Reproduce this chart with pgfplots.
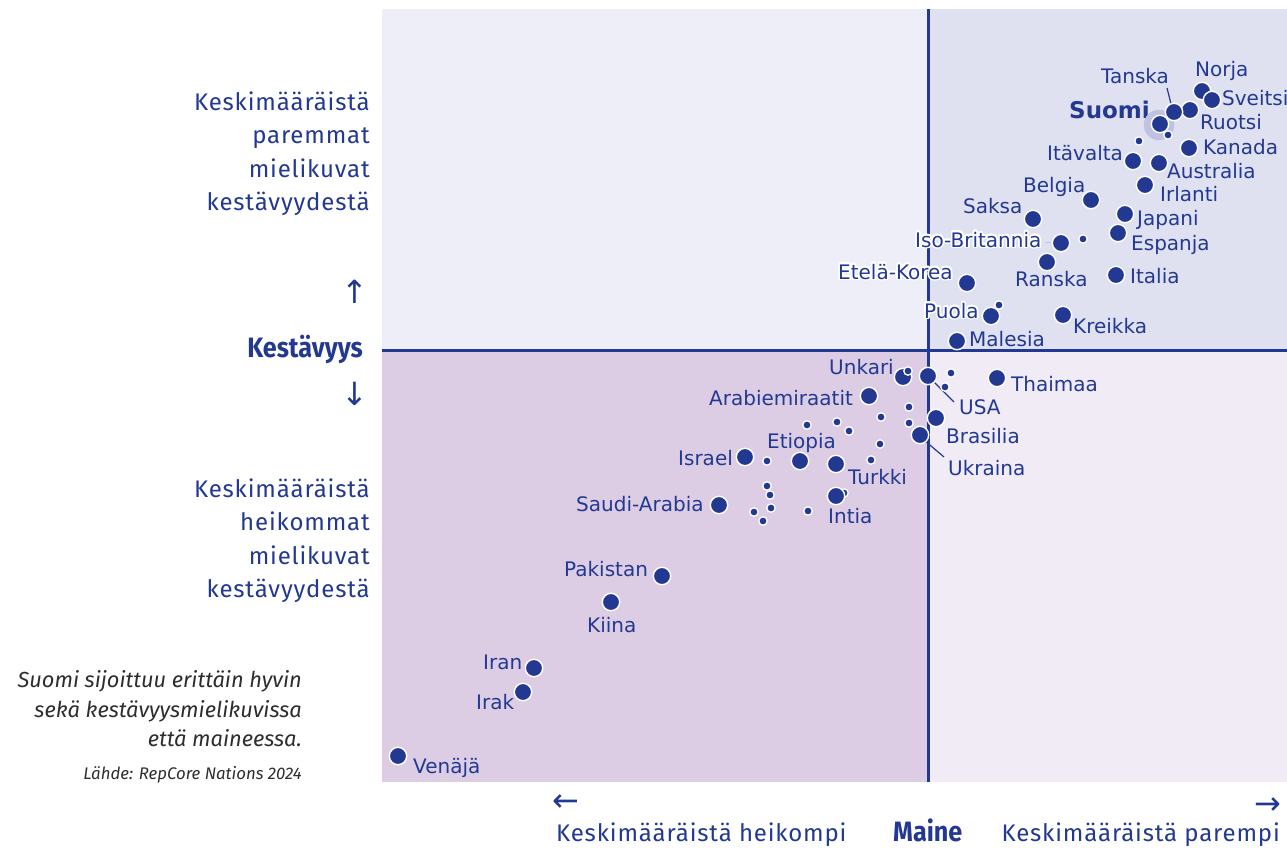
\documentclass[border=0pt]{standalone}
\usepackage{pgfplots}
\pgfplotsset{compat=1.18}
\usepackage{fontspec}
\usepackage{contour}
\setmainfont{DejaVu Sans}
\newfontfamily\sidefont[LetterSpace=3.5]{Fira Sans}
\newfontfamily\boldside[FakeStretch=0.9]{Fira Sans}
\newfontfamily\notefont{Fira Sans}
\newfontfamily\arrfont{DejaVu Sans}
\contourlength{1.6pt}
\definecolor{navy}{RGB}{35,57,145}
\definecolor{bgTL}{RGB}{238,238,248}
\definecolor{bgTR}{RGB}{223,225,240}
\definecolor{bgBL}{RGB}{220,205,228}
\definecolor{bgBR}{RGB}{241,235,246}
\definecolor{haloc}{RGB}{192,194,226}
\definecolor{notec}{RGB}{45,45,45}
\newcommand{\lab}[3]{\node[anchor=base west, inner sep=0pt, text=navy, font=\fontsize{20}{24}\selectfont] at (axis cs:#1,#2) {#3};}
\newcommand{\side}[3]{\node[anchor=base east, inner sep=0pt, text=navy, font=\sidefont\fontsize{24}{28}\selectfont] at (axis cs:#1,#2) {#3};}
\begin{document}
\begin{tikzpicture}
\begin{axis}[
  width=905pt, height=773pt, scale only axis,
  xmin=382, xmax=1287, ymin=9, ymax=782, y dir=reverse,
  hide axis, clip=false,
]
\fill[bgTL] (axis cs:382,9) rectangle (axis cs:928,350);
\fill[bgTR] (axis cs:928,9) rectangle (axis cs:1287,350);
\fill[bgBL] (axis cs:382,350) rectangle (axis cs:928,782);
\fill[bgBR] (axis cs:928,350) rectangle (axis cs:1287,782);
\draw[navy, line width=3pt] (axis cs:928,9) -- (axis cs:928,782);
\draw[navy, line width=3pt] (axis cs:382,350) -- (axis cs:1287,350);
% halo of Suomi
\addplot[only marks, mark=*, color=haloc, mark size=15, mark options={draw=haloc, fill=haloc}] coordinates {(1159,125)};
% small dots
\addplot[only marks, mark=*, color=navy, mark size=4.2, mark options={draw=white, fill=navy, line width=1.3pt}] coordinates {
(1139,141) (1083,239) (999,305) (951,373) (945,387) (909,407) (909,423)
(881,417) (837,422) (807,425) (849,431) (880,444) (871,460) (767,461)
(844,493) (767,486) (770,495) (771,508) (754,512) (763,521) (808,511)};
% large dots
\addplot[only marks, mark=*, color=navy, mark size=8.7, mark options={draw=white, fill=navy, line width=1.4pt}] coordinates {
(1202,91) (1212,100) (1190,110) (1174,112) (1160,124) (1189,148) (1133,161)
(1159,163) (1145,185) (1091,200) (1033,219) (1125,214) (1118,233) (1061,243)
(1047,262) (1116,275) (1063,315) (967,283) (991,316) (957,341) (997,378)
(903,377) (928,376) (936,418) (920,435) (869,396) (745,457) (800,461)
(836,464) (836,496) (719,505) (662,576) (611,602) (534,668) (523,692) (398,756)};
% small dots on top
\addplot[only marks, mark=*, color=navy, mark size=4.2, mark options={draw=white, fill=navy, line width=1.3pt}] coordinates {
(1168,135) (908,371)};
% leader lines
\draw[navy, line width=1.2pt] (axis cs:1167,88) -- (axis cs:1172,108);
\draw[navy, line width=1.2pt] (axis cs:933,381) -- (axis cs:954,402);
\draw[navy, line width=1.2pt] (axis cs:924,440) -- (axis cs:944,457);
\draw[haloc, line width=1pt] (axis cs:1045,242) -- (axis cs:1051,242);
% labels
\lab{1195}{77}{Norja}
\lab{1222}{105}{Sveitsi}
\lab{1200}{130}{Ruotsi}
\lab{1101}{84}{Tanska}
\node[anchor=base west, inner sep=0pt, text=navy, font=\bfseries\fontsize{23}{26}\selectfont] at (axis cs:1069,119) {Suomi};
\lab{1203}{154}{Kanada}
\lab{1047}{160}{Itävalta}
\lab{1167}{178}{Australia}
\lab{1160}{201}{Irlanti}
\lab{1023}{192}{Belgia}
\lab{963}{213}{Saksa}
\lab{1137}{225}{Japani}
\lab{1131}{250}{Espanja}
\lab{915}{247}{\contour{white}{Iso-Britannia}}
\lab{1015}{286}{Ranska}
\lab{1130}{283}{Italia}
\lab{1073}{333}{Kreikka}
\lab{838}{279}{\contour{white}{Etelä-Korea}}
\lab{924}{318}{\contour{white}{Puola}}
\lab{969}{346}{Malesia}
\lab{829}{374}{Unkari}
\lab{709}{405}{Arabiemiraatit}
\lab{1011}{391}{Thaimaa}
\lab{959}{414}{USA}
\lab{946}{443}{Brasilia}
\lab{948}{475}{Ukraina}
\lab{767}{448}{Etiopia}
\lab{678}{465}{Israel}
\lab{848}{484}{Turkki}
\lab{576}{511}{Saudi-Arabia}
\lab{828}{523}{Intia}
\lab{564}{576}{Pakistan}
\lab{587}{632}{Kiina}
\lab{483}{669}{Iran}
\lab{476}{709}{Irak}
\lab{413}{773}{Venäjä}
% side texts
\side{370}{110}{Keskimääräistä}
\side{370}{143.5}{paremmat}
\side{370}{177}{mielikuvat}
\side{370}{210.5}{kestävyydestä}
\side{370}{497}{Keskimääräistä}
\side{370}{530}{heikommat}
\side{370}{564}{mielikuvat}
\side{370}{597}{kestävyydestä}
\node[text=navy, inner sep=0pt, font=\arrfont\fontsize{32}{34}\selectfont] at (axis cs:355,292) {↑};
\node[text=navy, inner sep=0pt, font=\arrfont\fontsize{32}{34}\selectfont] at (axis cs:355,394) {↓};
\node[anchor=base east, inner sep=0pt, text=navy, font=\boldside\bfseries\fontsize{28}{30}\selectfont] at (axis cs:363,357) {Kestävyys};
% bottom
\node[text=navy, inner sep=0pt, font=\arrfont\fontsize{32}{34}\selectfont] at (axis cs:566,803) {←};
\node[text=navy, inner sep=0pt, font=\arrfont\fontsize{32}{34}\selectfont] at (axis cs:1268,806) {→};
\node[anchor=base west, inner sep=0pt, text=navy, font=\sidefont\fontsize{24}{28}\selectfont] at (axis cs:556,841) {Keskimääräistä heikompi};
\node[anchor=base west, inner sep=0pt, text=navy, font=\boldside\bfseries\fontsize{28}{30}\selectfont] at (axis cs:893,841) {Maine};
\node[anchor=base east, inner sep=0pt, text=navy, font=\sidefont\fontsize{24}{28}\selectfont] at (axis cs:1280,841) {Keskimääräistä parempi};
% note
\node[anchor=base east, inner sep=0pt, text=notec, font=\notefont\itshape\fontsize{21.8}{25}\selectfont] at (axis cs:302,687) {Suomi sijoittuu erittäin hyvin};
\node[anchor=base east, inner sep=0pt, text=notec, font=\notefont\itshape\fontsize{21.8}{25}\selectfont] at (axis cs:302,717) {sekä kestävyysmielikuvissa};
\node[anchor=base east, inner sep=0pt, text=notec, font=\notefont\itshape\fontsize{21.8}{25}\selectfont] at (axis cs:302,746) {että maineessa.};
\node[anchor=base east, inner sep=0pt, text=notec, font=\notefont\itshape\fontsize{16.8}{19}\selectfont] at (axis cs:302,779) {Lähde: RepCore Nations 2024};
\coordinate (BL) at (axis cs:0,848);
\coordinate (TR) at (axis cs:1287,0);
\end{axis}
\pgfresetboundingbox
\path[use as bounding box] (BL) rectangle (TR);
\end{tikzpicture}
\end{document}
